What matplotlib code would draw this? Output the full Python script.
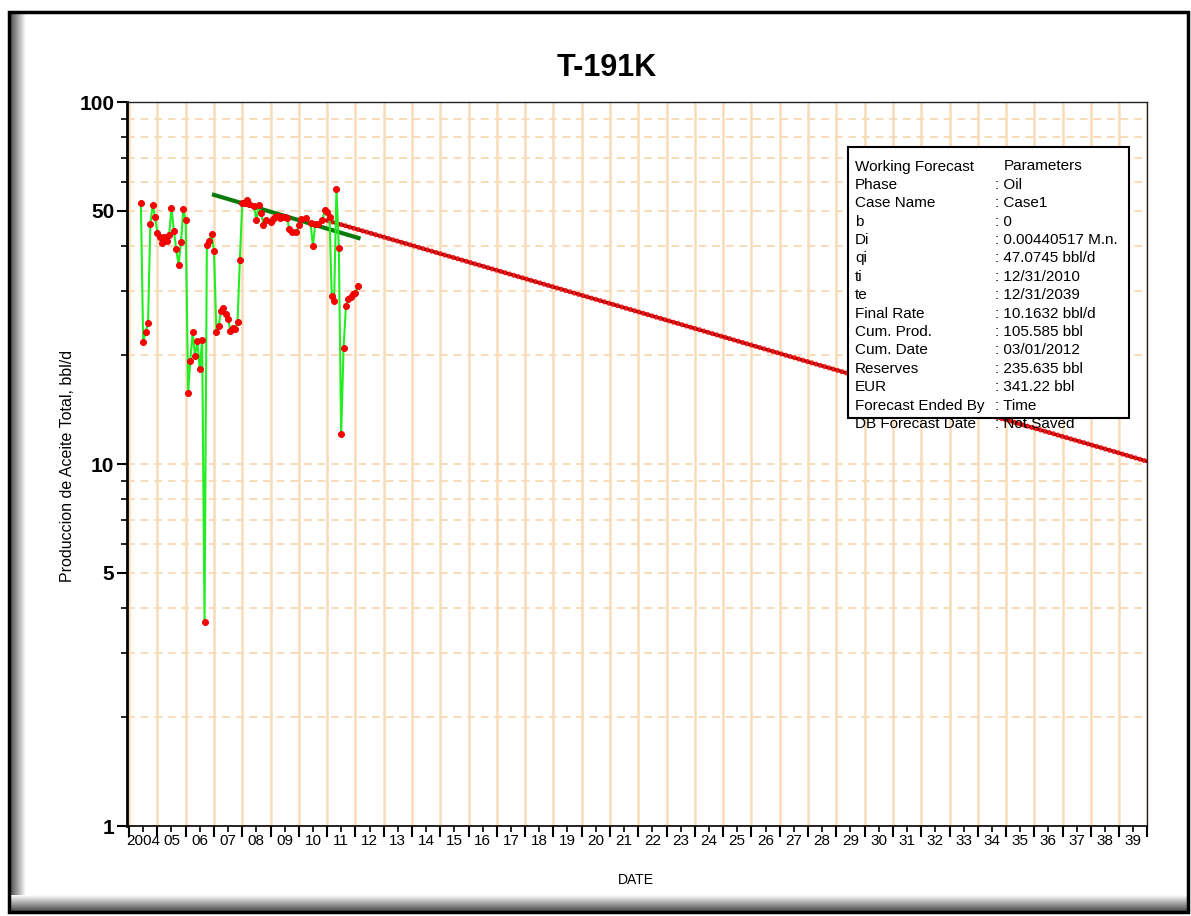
import numpy as np
import pandas as pd
import matplotlib
matplotlib.use("Agg")
import matplotlib.pyplot as plt
import matplotlib.dates as mdates
from matplotlib.patches import Rectangle
from matplotlib.ticker import FixedLocator, FixedFormatter, NullFormatter, LogLocator

plt.rcParams['font.family'] = ['Liberation Sans', 'DejaVu Sans']

# monthly oil rate, bbl/d
hist_month = ['2004-06', '2004-07', '2004-08', '2004-09', '2004-10', '2004-11', '2004-12',
              '2005-01', '2005-02', '2005-03', '2005-04', '2005-05', '2005-06', '2005-07',
              '2005-08', '2005-09', '2005-10', '2005-11', '2005-12',
              '2006-01', '2006-02', '2006-03', '2006-04', '2006-05', '2006-06', '2006-07',
              '2006-08', '2006-09', '2006-10', '2006-11', '2006-12',
              '2007-01', '2007-02', '2007-03', '2007-04', '2007-05', '2007-06', '2007-07',
              '2007-08', '2007-09', '2007-10', '2007-11', '2007-12',
              '2008-01', '2008-02', '2008-03', '2008-04', '2008-06', '2008-07', '2008-08',
              '2008-09', '2008-10', '2008-11',
              '2009-01', '2009-02', '2009-03', '2009-04', '2009-05', '2009-06', '2009-07',
              '2009-08', '2009-09', '2009-10', '2009-12',
              '2010-01', '2010-02', '2010-04', '2010-06', '2010-07', '2010-08', '2010-09',
              '2010-11', '2010-12',
              '2011-01', '2011-02', '2011-03', '2011-04', '2011-05', '2011-06', '2011-07',
              '2011-08', '2011-09', '2011-10', '2011-11', '2011-12',
              '2012-01', '2012-02']
hist_rate = [52.5, 21.7, 23.1, 24.5, 45.9, 52.1, 48.0,
             43.5, 42.3, 40.9, 42.4, 41.4, 42.9, 50.9,
             44.1, 39.2, 35.5, 41.1, 50.5,
             47.2, 15.7, 19.3, 23.1, 19.9, 21.8, 18.3,
             22.0, 3.66, 40.3, 41.4, 43.2,
             38.8, 23.1, 24.0, 26.5, 27.0, 25.9, 25.2,
             23.3, 23.7, 23.6, 24.7, 36.6,
             52.5, 52.7, 53.5, 52.3, 51.6, 47.2, 51.9,
             49.3, 45.7, 47.2,
             46.5, 47.5, 48.0, 48.3, 47.8, 48.2, 48.0,
             47.7, 44.5, 43.8, 43.7,
             45.7, 47.5, 47.7, 46.2, 40.1, 46.1, 46.1,
             47.1, 50.3,
             49.6, 48.0, 29.2, 28.2, 57.4, 39.6, 12.1,
             20.9, 27.3, 28.5, 29.0, 29.4,
             29.6, 31.1]

# fitted trend segment
fit_date = ['2007-01-01', '2012-02-10']
fit_rate = [55.4, 42.1]

# working forecast, value at start of each year
fc_year = list(range(2011, 2041))
fc_rate = [47.07, 44.65, 42.35, 40.17, 38.10, 36.14, 34.28, 32.51, 30.84, 29.25,
           27.75, 26.32, 24.96, 23.68, 22.46, 21.30, 20.20, 19.16, 18.18, 17.24,
           16.35, 15.51, 14.71, 13.96, 13.24, 12.56, 11.91, 11.30, 10.72, 10.16]

label_years = list(range(2004, 2040))
year_labels = ['2004'] + ['%02d' % (y % 100) for y in label_years[1:]]

box_keys = ['Working Forecast', 'Phase', 'Case Name', 'b', 'Di', 'qi', 'ti', 'te',
            'Final Rate', 'Cum. Prod.', 'Cum. Date', 'Reserves', 'EUR',
            'Forecast Ended By', 'DB Forecast Date']
box_vals = ['Parameters', 'Oil', 'Case1', '0', '0.00440517 M.n.', '47.0745 bbl/d',
            '12/31/2010', '12/31/2039', '10.1632 bbl/d', '105.585 bbl', '03/01/2012',
            '235.635 bbl', '341.22 bbl', 'Time', 'Not Saved']

W, H = 1191, 916
fig = plt.figure(figsize=(W / 100, H / 100), dpi=100)
ax = fig.add_axes([126.7 / W, 1 - 826 / H, (1147.5 - 126.7) / W, (826 - 102) / H])

grid_col = '#F8DCB8'

hist_dates = pd.to_datetime(hist_month)
fc_dates = pd.to_datetime(['%d-01-01' % y for y in fc_year])

ax.plot(fc_dates, fc_rate, color='#B00000', lw=2.6, zorder=3)
ax.plot(fc_dates, fc_rate, color='#FF1A1A', lw=3.6, ls=(0, (0.4, 0.5)), zorder=3)
ax.plot(pd.to_datetime(fit_date), fit_rate, color='#0A7A0A', lw=3, zorder=4)
ax.plot(hist_dates, hist_rate, color='#22EE22', lw=1.5, marker='o', ms=4.4,
        mfc='#FF0000', mec='#E00000', mew=0.6, zorder=5)

ax.set_yscale('log')
ax.set_ylim(1, 100)
ax.set_xlim(mdates.date2num(pd.Timestamp('2003-12-01')),
            mdates.date2num(pd.Timestamp('2040-01-01')))

# y axis
ax.set_yticks([1, 5, 10, 50, 100])
ax.set_yticklabels(['1', '5', '10', '50', '100'], fontsize=15, fontweight='bold')
ax.yaxis.set_minor_locator(LogLocator(base=10, subs=np.arange(2, 10)))
ax.yaxis.set_minor_formatter(NullFormatter())
ax.tick_params(axis='y', which='major', length=7, width=1.5, pad=2)
ax.tick_params(axis='y', which='minor', length=4, width=1.2)

# x axis: year boundaries as major ticks, labels at mid-year
ax.xaxis.set_major_locator(mdates.YearLocator(1))
ax.xaxis.set_major_formatter(NullFormatter())
mid = [mdates.date2num(pd.Timestamp('%d-07-01' % y)) for y in label_years]
ax.xaxis.set_minor_locator(FixedLocator(mid))
ax.xaxis.set_minor_formatter(FixedFormatter(year_labels))
ax.tick_params(axis='x', which='major', length=8, width=1.5)
ax.tick_params(axis='x', which='minor', length=4, width=1.2, labelsize=11, pad=2)

ax.xaxis.grid(True, which='major', color=grid_col, lw=1.8, ls='-', zorder=0)
ax.yaxis.grid(True, which='both', color=grid_col, lw=1.4, ls=(0, (4, 3)), zorder=0)
ax.set_axisbelow(True)

for s in ['top', 'right']:
    ax.spines[s].set_linewidth(1.0)
    ax.spines[s].set_color('#222222')
ax.spines['left'].set_linewidth(2.0)
ax.spines['bottom'].set_linewidth(1.2)

fig.text(607 / W, 1 - 68 / H, 'T-191K', ha='center', va='center',
         fontsize=22, fontweight='bold')
fig.text(68 / W, 1 - 466 / H, 'Produccion de Aceite Total, bbl/d', rotation=90,
         ha='center', va='center', fontsize=11.5)
fig.text(636 / W, 1 - 880 / H, 'DATE', ha='center', va='center', fontsize=10)

# parameter box
fig.add_artist(Rectangle((848 / W, 1 - 418 / H), (1129 - 848) / W, (418 - 147) / H,
                         transform=fig.transFigure, fc='white', ec='black', lw=1.5,
                         zorder=5))
for i, (k, v) in enumerate(zip(box_keys, box_vals)):
    yy = 1 - (166.5 + i * 18.4) / H
    fig.text(855 / W, yy, k, ha='left', va='center', fontsize=11, zorder=6)
    if i == 0:
        fig.text(1004 / W, yy, v, ha='left', va='center', fontsize=11, zorder=6)
    else:
        fig.text(995 / W, yy, ': ' + v, ha='left', va='center', fontsize=11, zorder=6)

# page frame with shadow
gl = fig.add_axes([10 / W, 6 / H, 16 / W, (910 - 13) / H], zorder=-1)
gl.imshow(np.linspace(0.3, 1, 60)[None, :], cmap='gray', vmin=0, vmax=1, aspect='auto')
gl.axis('off')
gb = fig.add_axes([10 / W, 5 / H, (1187 - 10) / W, 16 / H], zorder=-1)
gb.imshow(np.linspace(1, 0.3, 60)[:, None], cmap='gray', vmin=0, vmax=1, aspect='auto')
gb.axis('off')
fig.add_artist(Rectangle((8.5 / W, 4 / H), (1188 - 8.5) / W, (904 - 4) / H,
                         transform=fig.transFigure, fill=False, ec='black', lw=2.5,
                         zorder=10))

fig.savefig('out.png', dpi=100)
